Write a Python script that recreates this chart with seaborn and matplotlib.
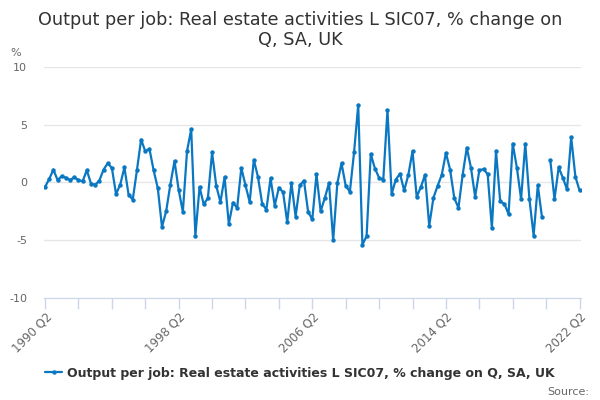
import numpy as np
import pandas as pd
import matplotlib
matplotlib.use("Agg")
import matplotlib.pyplot as plt
from matplotlib.lines import Line2D
import seaborn as sns

# quarterly % change, 1990 Q2 .. 2022 Q2 (2020 Q2 missing)
values = [
    -0.4, 0.3, 1.1, 0.2, 0.55, 0.4, 0.2, 0.45, 0.2, 0.1,
    1.05, -0.1, -0.2, 0.15, 1.1, 1.65, 1.25, -1.0, -0.2, 1.3,
    -1.05, -1.5, 1.05, 3.7, 2.7, 2.9, 1.05, -0.5, -3.85, -2.5,
    -0.2, 1.85, -0.65, -2.55, 2.7, 4.6, -4.6, -0.4, -1.9, -1.35,
    2.6, -0.3, -1.7, 0.45, -3.6, -1.75, -2.2, 1.25, -0.25, -1.7,
    1.95, 0.45, -1.85, -2.35, 0.35, -2.0, -0.45, -0.85, -3.45, -0.05,
    -2.95, -0.25, 0.15, -2.55, -3.2, 0.7, -2.5, -1.35, -0.05, -5.0,
    -0.05, 1.65, -0.3, -0.8, 2.6, 6.7, -5.4, -4.65, 2.45, 1.2,
    0.4, 0.25, 6.25, -1.0, 0.25, 0.75, -0.7, 0.65, 2.7, -1.25,
    -0.4, 0.65, -3.75, -1.35, -0.3, 0.65, 2.55, 1.1, -1.35, -2.2,
    0.65, 3.0, 1.25, -1.25, 1.05, 1.15, 0.7, -3.95, 2.7, -1.65,
    -1.85, -2.75, 3.35, 1.25, -1.45, 3.35, -1.45, -4.6, -0.25, -3.0,
    np.nan, 1.9, -1.45, 1.3, 0.4, -0.6, 3.9, 0.5, -0.7,
]
quarters = [str(p).replace("Q", " Q") for p in pd.period_range("1990Q2", "2022Q2", freq="Q")]
label_quarters = ["1990 Q2", "1998 Q2", "2006 Q2", "2014 Q2", "2022 Q2"]

title = "Output per job: Real estate activities L SIC07, % change on\nQ, SA, UK"
series_name = "Output per job: Real estate activities L SIC07, % change on Q, SA, UK"
blue = "#0a77c2"

df = pd.DataFrame({"quarter": quarters, "value": values})
df["pos"] = np.arange(len(df))
df["seg"] = df["value"].isna().cumsum()
df = df.dropna()

sns.set_style("white")
plt.rcParams["font.family"] = ["DejaVu Sans"]
plt.rcParams["axes.unicode_minus"] = False

fig = plt.figure(figsize=(6, 4), dpi=100)
ax = fig.add_axes([0.073, 0.255, 0.895, 0.578])

sns.lineplot(data=df, x="pos", y="value", units="seg", estimator=None,
             color=blue, linewidth=1.6, marker="o", markersize=3.2,
             markeredgewidth=0, ax=ax)

ax.set_ylim(-10, 10)
ax.set_yticks([-10, -5, 0, 5, 10])
ax.set_xlim(-0.3, len(quarters) - 0.7)
ax.yaxis.grid(True, color="#e6e6e6", linewidth=1)
ax.set_axisbelow(True)

ax.set_xticks(np.arange(0, len(quarters), 8))
ax.set_xticklabels([q if q in label_quarters else "" for q in quarters[::8]])
ax.tick_params(axis="x", bottom=True, length=8, width=1, color="#ccd6eb",
               labelcolor="#666666", labelsize=8.5, pad=1)
plt.setp(ax.get_xticklabels(), rotation=45, ha="right", rotation_mode="anchor")
ax.tick_params(axis="y", length=0, labelcolor="#666666", labelsize=8, pad=12)
ax.set_xlabel("")
ax.set_ylabel("")
for s in ["top", "right", "left"]:
    ax.spines[s].set_visible(False)
ax.spines["bottom"].set_color("#ccd6eb")

fig.text(0.5, 0.926, title, ha="center", va="center", fontsize=12.7,
         color="#333333", linespacing=1.15)
fig.text(0.017, 0.86, "%", fontsize=8, color="#666666")

handle = Line2D([], [], color=blue, linewidth=1.6, marker="o", markersize=3.2,
                markeredgewidth=0)
leg = fig.legend([handle], [series_name], loc="center", bbox_to_anchor=(0.5, 0.067),
                 frameon=False, handlelength=1.4, handletextpad=0.4,
                 prop={"weight": "bold", "size": 9})
for t in leg.get_texts():
    t.set_color("#333333")
fig.text(0.982, 0.012, "Source:", ha="right", fontsize=8, color="#666666")

fig.savefig("out.png", dpi=100)
